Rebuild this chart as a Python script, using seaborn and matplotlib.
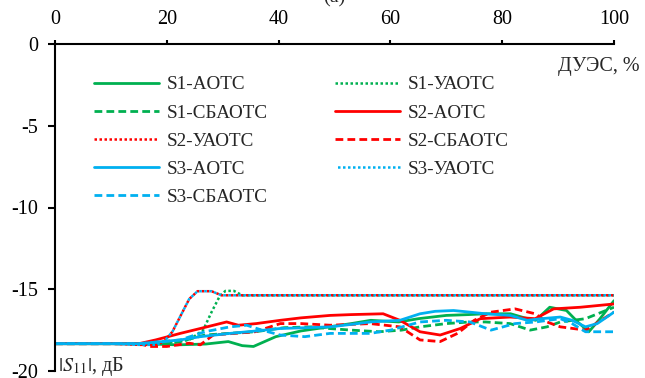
import matplotlib
matplotlib.use("Agg")
import matplotlib.pyplot as plt
import seaborn as sns

# --- значения ---
s1_aotc_x = [0, 15, 22, 27, 31, 33.5, 35.5, 39.5, 44, 49, 53, 56.5, 61.5, 65, 70, 74, 77, 81.5, 84, 86, 88.5, 91.5, 93.5, 95.5, 97.5, 100]
s1_aotc_y = [-18.33, -18.33, -18.4, -18.35, -18.2, -18.45, -18.5, -17.9, -17.55, -17.3, -17.1, -16.9, -17.0, -16.8, -16.6, -16.55, -16.5, -16.5, -16.75, -16.9, -16.1, -16.3, -17.0, -17.6, -16.8, -15.7]

s1_uaotc_x = [0, 15, 20, 24, 26.5, 28, 29.5, 30.5, 32, 33.5, 100]
s1_uaotc_y = [-18.33, -18.33, -18.3, -18.1, -17.5, -16.4, -15.4, -15.1, -15.1, -15.37, -15.37]

s1_sbaotc_x = [0, 15, 19, 22.4, 26.8, 31, 35.8, 41, 46, 49, 53, 58, 62, 65.3, 70, 74.2, 77, 81.4, 85, 88, 90.4, 94.9, 100]
s1_sbaotc_y = [-18.33, -18.33, -18.35, -18.2, -17.8, -17.7, -17.6, -17.35, -17.3, -17.4, -17.5, -17.6, -17.5, -17.3, -17.1, -17.0, -17.0, -17.1, -17.5, -17.3, -17.0, -16.8, -16.1]

s2_aotc_x = [0, 15, 18, 22.4, 26, 30.7, 32.8, 36, 40.3, 44, 49.2, 53, 58.7, 61.7, 65.3, 68.9, 72.5, 76.1, 81.4, 85.9, 89.2, 94, 100]
s2_aotc_y = [-18.33, -18.33, -18.1, -17.7, -17.4, -17.0, -17.2, -17.1, -16.9, -16.75, -16.6, -16.55, -16.5, -16.9, -17.6, -17.8, -17.4, -16.8, -16.7, -16.8, -16.2, -16.1, -15.9]

s2_uaotc_x = [0, 10, 15, 18, 19.5, 21, 22.5, 24, 25.5, 28, 29.8, 100]
s2_uaotc_y = [-18.33, -18.33, -18.4, -18.4, -18.2, -17.6, -16.6, -15.6, -15.12, -15.12, -15.37, -15.37]

s2_sbaotc_x = [0, 15, 17, 20, 24, 26, 28.3, 32, 35.8, 40.3, 44, 49.2, 56.4, 61.7, 63.5, 65.3, 68.9, 72, 75, 78, 82.3, 85.9, 88, 90.4, 94.9, 100]
s2_sbaotc_y = [-18.33, -18.33, -18.5, -18.5, -18.3, -18.4, -17.8, -17.7, -17.6, -17.1, -17.1, -17.2, -17.1, -17.3, -17.7, -18.1, -18.2, -17.7, -16.9, -16.4, -16.2, -16.5, -17.0, -17.3, -17.5, -16.4]

s3_aotc_x = [0, 15, 22.4, 26, 31.3, 36, 40.3, 45, 49.2, 53, 56.4, 61.7, 65.3, 68, 71.3, 74.2, 77, 81.4, 84.5, 87, 90.4, 92.5, 94.9, 97, 100]
s3_aotc_y = [-18.33, -18.33, -18.1, -17.9, -17.7, -17.55, -17.4, -17.35, -17.3, -17.15, -17.0, -16.9, -16.5, -16.35, -16.3, -16.4, -16.5, -16.6, -16.9, -16.8, -16.7, -16.9, -17.3, -17.1, -16.4]

s3_uaotc_x = [0, 10, 15, 18, 19.5, 21, 22.5, 24, 25.5, 28, 29.8, 100]
s3_uaotc_y = [-18.33, -18.33, -18.4, -18.4, -18.2, -17.6, -16.6, -15.6, -15.12, -15.12, -15.37, -15.37]

s3_sbaotc_x = [0, 15, 22.4, 26.8, 31.3, 34.3, 37, 40.3, 44.7, 49.2, 53, 56.4, 60, 65.3, 70, 74.2, 78, 82.3, 86, 90.4, 92.5, 94.9, 100]
s3_sbaotc_y = [-18.33, -18.33, -18.1, -17.6, -17.3, -17.2, -17.5, -17.8, -17.9, -17.7, -17.7, -17.7, -17.5, -17.0, -16.9, -17.0, -17.5, -17.1, -17.0, -16.8, -17.1, -17.6, -17.6]

x_ticks = [0, 20, 40, 60, 80, 100]
y_ticks = [0, -5, -10, -15, -20]

GREEN, RED, BLUE = "#00B050", "#FF0000", "#00B0F0"
DASH = (0, (2.8, 1.5))
DOT = (0, (1, 1))
DOT2 = (1, (1, 1))

series = [
    ("S1-AOTC", s1_aotc_x, s1_aotc_y, GREEN, "-"),
    ("S1-УАОТС", s1_uaotc_x, s1_uaotc_y, GREEN, DOT),
    ("S1-СБАОТС", s1_sbaotc_x, s1_sbaotc_y, GREEN, DASH),
    ("S2-AOTC", s2_aotc_x, s2_aotc_y, RED, "-"),
    ("S2-УАОТС", s2_uaotc_x, s2_uaotc_y, RED, DOT),
    ("S2-СБАОТС", s2_sbaotc_x, s2_sbaotc_y, RED, DASH),
    ("S3-AOTC", s3_aotc_x, s3_aotc_y, BLUE, "-"),
    ("S3-УАОТС", s3_uaotc_x, s3_uaotc_y, BLUE, DOT2),
    ("S3-СБАОТС", s3_sbaotc_x, s3_sbaotc_y, BLUE, DASH),
]

sns.set_theme(style="white")
plt.rcParams["font.family"] = ["Liberation Serif", "DejaVu Serif"]
plt.rcParams["mathtext.fontset"] = "stix"

fig = plt.figure(figsize=(6.45, 3.78), dpi=100)
ax = fig.add_axes([55 / 645, 1 - 371 / 378, 559 / 645, 327 / 378])

for name, xs, ys, col, ls in series:
    lw = 1.8 if ls in (DOT, DOT2) else 2.0
    sns.lineplot(x=xs, y=ys, ax=ax, color=col, linestyle=ls, linewidth=lw,
                 label=name, sort=False)

ax.set_xlim(0, 100)
ax.set_ylim(-20, 0)
ax.set_xticks(x_ticks)
ax.set_yticks(y_ticks)
ax.set_xticklabels([str(v) for v in x_ticks])
ax.set_yticklabels([str(v) for v in y_ticks])
ax.xaxis.tick_top()
for s in ["bottom", "right"]:
    ax.spines[s].set_visible(False)
for s in ["top", "left"]:
    ax.spines[s].set_color("black")
    ax.spines[s].set_linewidth(1.5)
ax.tick_params(axis="x", direction="out", length=3, width=1.5, pad=8,
               labelsize=14.5, colors="black", top=True, bottom=False)
ax.tick_params(axis="y", direction="out", length=5, width=1.5, pad=7,
               labelsize=14.5, colors="black", left=True)
ax.set_xlabel("")
ax.set_ylabel("")

ax.text(1.0465, 0.93, "ДУЭС, %", transform=ax.transAxes, ha="right", va="center", fontsize=14.5)
ax.text(0.006, 0.015, r"$|S_{11}|$, дБ", transform=ax.transAxes, ha="left", va="center", fontsize=14.5)
fig.text(0.518, 1.006, "(а)", ha="center", va="center", fontsize=14.5)

h, l = ax.get_legend_handles_labels()
order = [0, 2, 4, 6, 8, 1, 3, 5, 7]
ax.legend([h[i] for i in order], [l[i] for i in order], ncol=2, loc="upper left",
          bbox_to_anchor=(0.07, 0.902), frameon=False, fontsize=13.8, borderpad=0,
          borderaxespad=0, handlelength=3.4, handletextpad=0.39, columnspacing=3.5,
          labelspacing=0.56)

fig.savefig("out.png", dpi=100)
